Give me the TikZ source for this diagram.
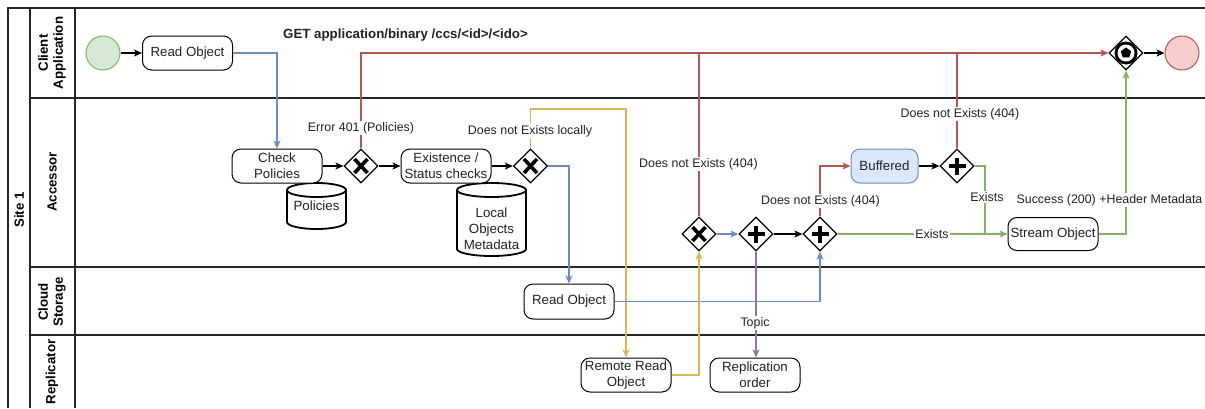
\documentclass[tikz,border=0pt]{standalone}
\usepackage{fontspec}
\setmainfont{Liberation Sans}
\usetikzlibrary{shapes.geometric,arrows.meta}
\definecolor{cblue}{HTML}{6C8EBF}
\definecolor{cred}{HTML}{B85450}
\definecolor{cyel}{HTML}{D6B656}
\definecolor{cpurp}{HTML}{9673A6}
\definecolor{cgreen}{HTML}{82B366}
\definecolor{gfill}{HTML}{D5E8D4}
\definecolor{rfill}{HTML}{F8CECC}
\definecolor{bfill}{HTML}{DAE8FC}
\definecolor{txt}{HTML}{222222}
\tikzset{
  lane/.style={line width=1.3pt, draw=black!85},
  lanelbl/.style={font=\fontsize{13.3}{15}\selectfont\bfseries, align=center, rotate=90, inner sep=0},
  task/.style={draw, line width=1pt, rounded corners=9pt, fill=white, minimum width=90pt, minimum height=34pt,
    inner sep=1pt, align=center, text=txt, font=\fontsize{13.3}{16}\selectfont},
  evt/.style={circle, line width=1pt, minimum size=34pt, inner sep=0},
  gw/.style={diamond, draw, line width=1.2pt, fill=white, minimum width=34pt, minimum height=34pt, inner sep=0},
  gwx/.style={gw, path picture={
     \draw[line width=3.6pt] ([shift={(-6.5pt,-7pt)}]path picture bounding box.center) -- ([shift={(6.5pt,7pt)}]path picture bounding box.center);
     \draw[line width=3.6pt] ([shift={(-6.5pt,7pt)}]path picture bounding box.center) -- ([shift={(6.5pt,-7pt)}]path picture bounding box.center);}},
  gwp/.style={gw, path picture={
     \draw[line width=4.4pt] ([yshift=-8.5pt]path picture bounding box.center) -- ([yshift=8.5pt]path picture bounding box.center);
     \draw[line width=4.4pt] ([xshift=-8.5pt]path picture bounding box.center) -- ([xshift=8.5pt]path picture bounding box.center);}},
  gwe/.style={gw, path picture={
     \fill[black] (path picture bounding box.center) circle (11.5pt);
     \fill[white] (path picture bounding box.center) circle (8.5pt);
     \fill[black] ([shift={(90:5.5pt)}]path picture bounding box.center) -- ([shift={(162:5.5pt)}]path picture bounding box.center)
       -- ([shift={(234:5.5pt)}]path picture bounding box.center) -- ([shift={(306:5.5pt)}]path picture bounding box.center)
       -- ([shift={(18:5.5pt)}]path picture bounding box.center) -- cycle;}},
  cylst/.style={line width=1.8pt, fill=white},
  cyltext/.style={align=center, text=txt, font=\fontsize{13.3}{16}\selectfont, inner sep=0},
  arr/.style={line width=1.1pt, -{Stealth[length=8pt,width=7pt,inset=2pt]}},
  ln/.style={line width=1.1pt},
  lbl/.style={fill=white, inner sep=1pt, text=txt, font=\fontsize{12.4}{14}\selectfont},
}
\begin{document}
\begin{tikzpicture}[x=1pt,y=-1pt]
\useasboundingbox (0,0) rectangle (1205,408);
% pool and lanes
\draw[lane] (8,408) -- (8,8) -- (1205,8);
\draw[lane] (30,8) -- (30,408);
\draw[lane] (75,8) -- (75,408);
\draw[lane] (30,98) -- (1205,98);
\draw[lane] (30,267) -- (1205,267);
\draw[lane] (30,335) -- (1205,335);
\node[lanelbl] (site) at (19,210) {Site 1};
\node[lanelbl] (lclient) at (52,53) {Client\\Application};
\node[lanelbl] (lacc) at (52,182) {Accessor};
\node[lanelbl] (lcloud) at (52,302) {Cloud\\Storage};
\node[lanelbl] (lrep) at (52,372) {Replicator};

% data stores
\draw[cylst] (287,190) -- (287,222) arc[start angle=180,end angle=360,x radius=29.5pt,y radius=7pt]
  -- (346,190) arc[start angle=0,end angle=180,x radius=29.5pt,y radius=7pt] -- cycle;
\draw[line width=1.8pt] (287,190) arc[start angle=180,end angle=360,x radius=29.5pt,y radius=7pt];
\node[cyltext] (pol) at (316.5,206) {Policies};
\draw[cylst] (457,190) -- (457,249) arc[start angle=180,end angle=360,x radius=34.5pt,y radius=7pt]
  -- (526,190) arc[start angle=0,end angle=180,x radius=34.5pt,y radius=7pt] -- cycle;
\draw[line width=1.8pt] (457,190) arc[start angle=180,end angle=360,x radius=34.5pt,y radius=7pt];
\node[cyltext] (lom) at (491.5,229) {Local\\Objects\\Metadata};

% nodes
\node[evt, draw=cgreen, fill=gfill] (start) at (103,53) {};
\node[task] (ro1) at (187.5,53) {Read Object};
\node[task] (cp) at (277,166) {Check\\Policies};
\node[gwx] (g1) at (361,166) {};
\node[task] (esc) at (446,166) {Existence /\\Status checks};
\node[gwx] (g2) at (530.5,166) {};
\node[gwx] (x3) at (699,234) {};
\node[gwp] (p1) at (756,234) {};
\node[gwp] (p2) at (820,234) {};
\node[task, draw=cblue, fill=bfill, minimum width=67pt] (buf) at (884.5,166) {Buffered};
\node[gwp] (p3) at (957,166) {};
\node[task, minimum height=33pt] (so) at (1053,234) {Stream Object};
\node[gwe] (eg) at (1126,53) {};
\node[evt, draw=cred, fill=rfill] (end) at (1182,53) {};
\node[task, minimum height=35pt] (ro2) at (569,301.5) {Read Object};
\node[task] (rro) at (626,375) {Remote Read\\Object};
\node[task] (rep) at (755,375) {Replication\\order};
\coordinate (ybend) at (626,109);
\coordinate (gj) at (985,234);

% connectors
\draw[arr] (start) -- (ro1);
\draw[arr, cblue] (ro1.east) -| (cp.north);
\draw[arr] (cp) -- (g1);
\draw[arr] (g1) -- (esc);
\draw[arr] (esc) -- (g2);
\draw[arr, cred] (g1.north) |- (eg.west);
\draw[ln, cred] (x3.north) -- (x3.north |- eg.west);
\draw[ln, cred] (p3.north) -- (p3.north |- eg.west);
\draw[arr, cyel] (g2.north) |- (ybend) -- (rro.north);
\draw[arr, cblue] (g2.east) -| (ro2.north);
\draw[arr, cblue] (ro2.east) -| (p2.south);
\draw[arr, cyel] (rro.east) -| (x3.south);
\draw[arr, cblue] (x3) -- (p1);
\draw[arr, cpurp] (p1.south) -- (p1.south |- rep.north);
\draw[arr] (p1) -- (p2);
\draw[arr, cred] (p2.north) |- (buf.west);
\draw[arr] (buf) -- (p3);
\draw[ln, cgreen] (p3.east) -| (gj);
\draw[arr, cgreen] (p2.east) -- (so.west);
\draw[arr, cgreen] (so.east) -| (eg.south);
\draw[arr] (eg) -- (end);

% labels
\node[font=\fontsize{13.3}{15}\selectfont\bfseries, text=txt, inner sep=0] (get) at (405.5,35) {GET application/binary /ccs/<id>/<ido>};
\node[lbl] (l401) at (361,128) {Error 401 (Policies)};
\node[lbl] (lloc) at (530,131) {Does not Exists locally};
\node[lbl] (l404a) at (698.5,164) {Does not Exists (404)};
\node[lbl] (l404b) at (820.5,201) {Does not Exists (404)};
\node[lbl] (l404c) at (960,114) {Does not Exists (404)};
\node[lbl] (lex1) at (987,197) {Exists};
\node[lbl] (lex2) at (932,234) {Exists};
\node[lbl] (lsucc) at (1109.5,200) {Success (200) +Header Metadata};
\node[lbl] (ltopic) at (755,323) {Topic};
\end{tikzpicture}
\end{document}
